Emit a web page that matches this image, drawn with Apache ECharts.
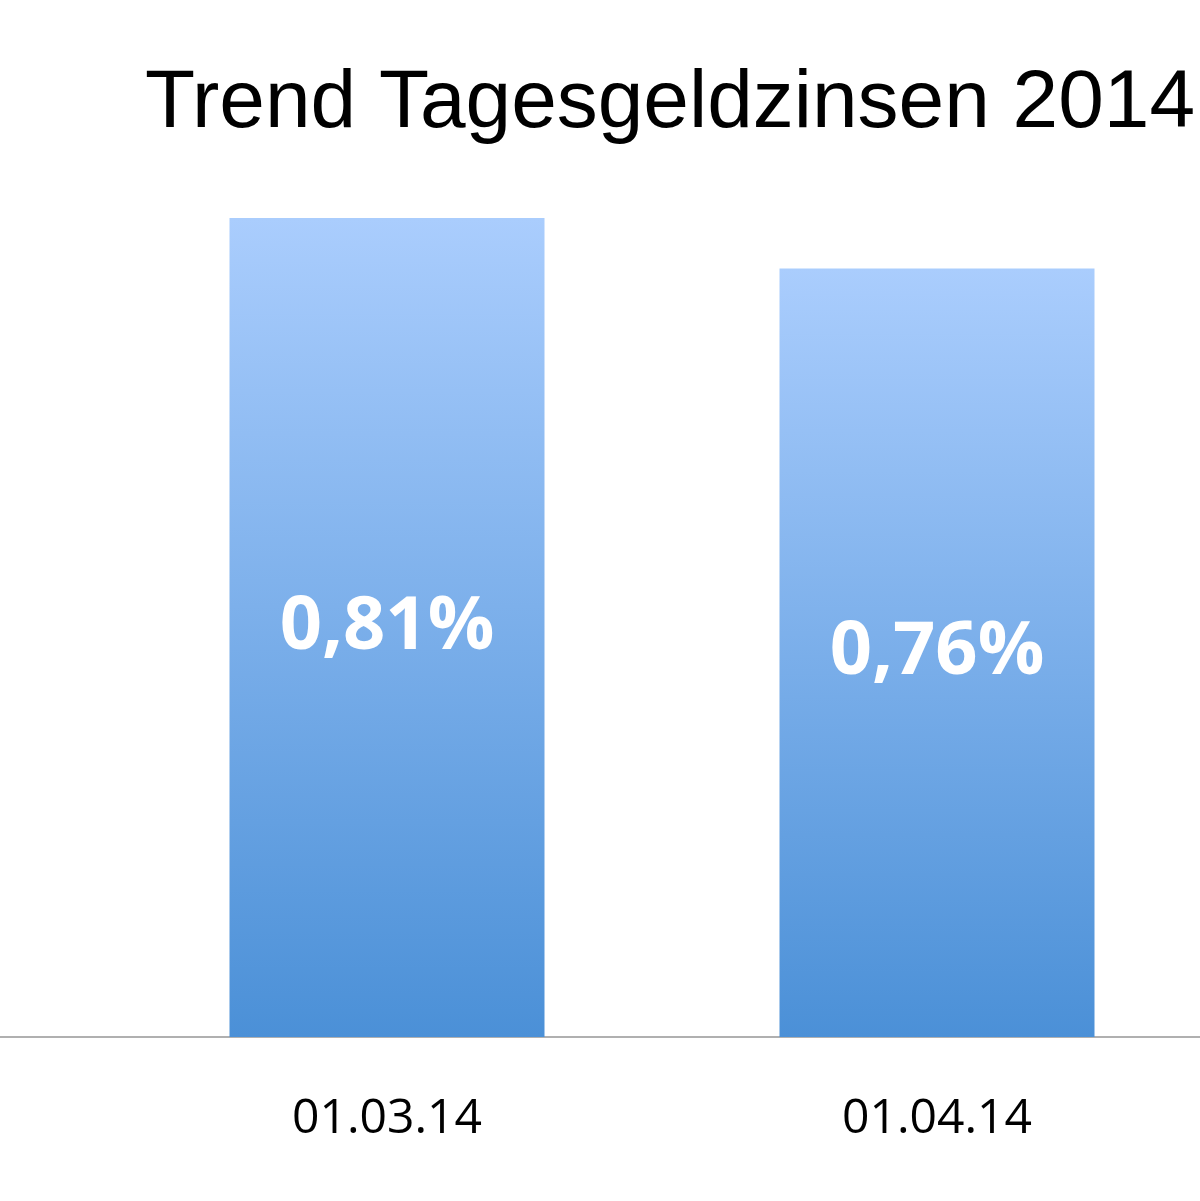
<!DOCTYPE html><html><head><meta charset="utf-8">
<script src="https://cdn.jsdelivr.net/npm/echarts@6/dist/echarts.min.js"></script>
<style>html,body{margin:0;padding:0;overflow:hidden;background:#fff;width:1200px;height:1201px}
#c{position:absolute;left:-438px;top:0;width:2200px;height:1201px}</style></head><body>
<div id="c"></div>
<script>
const categories = ['', '01.03.14', '01.04.14', ''];
const values = [null, 0.81, 0.76, null];
const titleText = 'Trend Tagesgeldzinsen 2014';
const chart = echarts.init(document.getElementById('c'));
chart.setOption({
  animation: false,
  title: {text: titleText, left: 578, top: 58,
    textStyle: {fontFamily: 'Liberation Sans', fontSize: 82, fontWeight: 'normal', color: '#000'}},
  grid: {left: 0, right: 0, top: 127, bottom: 164},
  xAxis: {type: 'category', data: categories,
    axisLine: {lineStyle: {color: '#b0b0b0', width: 2}}, axisTick: {show: false},
    axisLabel: {fontFamily: 'Open Sans', fontSize: 48, color: '#000', margin: 58}},
  yAxis: {type: 'value', min: 0, max: 0.9, show: false, splitLine: {show: false}},
  series: [{type: 'bar', data: values, barWidth: 315,
    itemStyle: {color: new echarts.graphic.LinearGradient(0, 0, 0, 1,
      [{offset: 0, color: '#aacdfd'}, {offset: 1, color: '#4b90d7'}])},
    label: {show: true, position: 'inside', color: '#fff', fontFamily: 'Open Sans',
      fontWeight: 'bold', fontSize: 74,
      formatter: p => p.value.toFixed(2).replace('.', ',') + '%'}}]
});
</script></body></html>
